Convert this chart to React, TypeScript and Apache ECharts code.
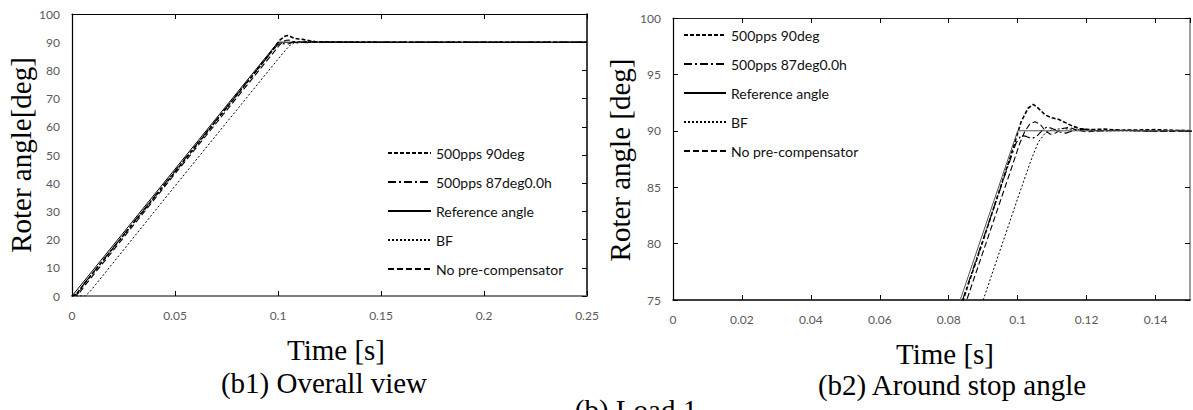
import React, { useEffect, useRef } from "react";
import * as echarts from "echarts";

// ---- data ----
const seriesNames = [
  "500pps 90deg",
  "500pps 87deg0.0h",
  "Reference angle",
  "BF",
  "No pre-compensator",
];

const pps90deg: number[][] = [
  [0, 0], [0.002, 0.5], [0.004, 2.5], [0.01, 8], [0.05, 44], [0.09, 80.3],
  [0.098, 87.8], [0.101, 90.8], [0.103, 92.0], [0.1045, 92.35], [0.106, 92.0],
  [0.108, 91.4], [0.11, 91.15], [0.112, 91.0], [0.114, 90.7], [0.116, 90.4],
  [0.118, 90.2], [0.121, 90.1], [0.125, 90.15], [0.13, 90.05], [0.14, 90.1],
  [0.15, 90.0], [0.25, 90],
];

const pps87deg: number[][] = [
  [0, 0], [0.003, 1], [0.006, 4.5], [0.05, 44.3], [0.09, 80.4], [0.097, 86.7],
  [0.0995, 88.9], [0.101, 89.6], [0.1025, 89.5], [0.104, 89.3], [0.1055, 89.5],
  [0.107, 90.0], [0.1085, 90.35], [0.11, 90.2], [0.112, 89.9], [0.114, 89.8],
  [0.116, 90.0], [0.119, 90.15], [0.123, 90.0], [0.13, 90.05], [0.14, 89.95],
  [0.15, 90.05], [0.25, 90],
];

const referenceAngle: number[][] = [
  [0, 0], [0.1, 90], [0.25, 90],
];

const bfAngle: number[][] = [
  [0, 0], [0.0065, 0], [0.009, 1.8], [0.05, 39], [0.09, 75], [0.1, 84],
  [0.104, 87.5], [0.106, 89.0], [0.108, 89.8], [0.11, 90.1], [0.113, 90.2],
  [0.117, 90.1], [0.125, 90.0], [0.25, 90],
];

const noPreComp: number[][] = [
  [0, 0], [0.003, 0.5], [0.006, 3.5], [0.05, 43.3], [0.09, 79.3], [0.098, 86.5],
  [0.1005, 88.8], [0.102, 89.9], [0.1035, 90.6], [0.105, 90.8], [0.1065, 90.6],
  [0.108, 90.0], [0.1095, 89.7], [0.111, 89.8], [0.113, 90.2], [0.115, 90.3],
  [0.117, 90.1], [0.12, 89.9], [0.124, 90.0], [0.13, 90.05], [0.14, 89.95],
  [0.25, 90],
];

const seriesData = [pps90deg, pps87deg, referenceAngle, bfAngle, noPreComp];

// ---- styles ----
const lineStyles = [
  { color: "#000", width: 1.6, type: [4, 2] },
  { color: "#000", width: 1.2, type: [8, 3, 2, 3] },
  { color: "#000", width: 1, type: "solid" },
  { color: "#000", width: 1, type: [2, 2] },
  { color: "#000", width: 1.1, type: [6, 3] },
];

const tickFont = "Lato, 'Open Sans', sans-serif";
const serif = "'Liberation Serif', 'DejaVu Serif', serif";

export default function App() {
  const ref = useRef<HTMLDivElement>(null);
  useEffect(() => {
    if (!ref.current) return;
    const chart = echarts.init(ref.current, undefined, { renderer: "svg" });

    const label = { color: "#595959", fontSize: 12, fontFamily: tickFont };

    const mkX = (grid: number, max: number, interval: number, bottomColor: string, bottomWidth: number, topColor: string) => [
      {
        type: "value", gridIndex: grid, min: 0, max, interval, position: "bottom",
        axisLine: { show: true, lineStyle: { color: bottomColor, width: bottomWidth } },
        axisTick: { show: true, inside: true, length: 5, lineStyle: { color: "#000" } },
        axisLabel: { ...label, margin: 13, showMaxLabel: grid === 0 },
        splitLine: { show: false },
      },
      {
        type: "value", gridIndex: grid, min: 0, max, interval, position: "top",
        axisLine: { show: true, onZero: false, lineStyle: { color: topColor, width: 1.2 } },
        axisTick: { show: true, inside: true, length: 5, lineStyle: { color: "#000" } },
        axisLabel: { show: false },
        splitLine: { show: false },
      },
    ];
    const mkY = (grid: number, min: number, max: number, interval: number, leftTicks: boolean, rightColor: string) => [
      {
        type: "value", gridIndex: grid, min, max, interval, position: "left",
        axisLine: { show: true, onZero: false, lineStyle: { color: "#000", width: 1.2 } },
        axisTick: { show: leftTicks, inside: true, length: 5, lineStyle: { color: "#000" } },
        axisLabel: { ...label, margin: 12 },
        splitLine: { show: false },
      },
      {
        type: "value", gridIndex: grid, min, max, interval, position: "right",
        axisLine: { show: true, onZero: false, lineStyle: { color: rightColor, width: 1.5 } },
        axisTick: { show: true, inside: true, length: 5, lineStyle: { color: "#000" } },
        axisLabel: { show: false },
        splitLine: { show: false },
      },
    ];

    const series: any[] = [];
    [0, 1].forEach((g) => {
      seriesNames.forEach((name, i) => {
        series.push({
          type: "line",
          name,
          data: seriesData[i],
          xAxisIndex: g * 2,
          yAxisIndex: g * 2,
          symbol: "none",
          showSymbol: false,
          clip: true,
          itemStyle: { color: "#000" },
          lineStyle: { ...lineStyles[i], color: g === 1 && i === 2 ? "#555" : lineStyles[i].color },
          z: i === 2 ? 3 : 2,
        });
      });
    });

    const legendCommon = {
      orient: "vertical",
      data: seriesNames,
      itemWidth: 43,
      itemHeight: 14,
      itemGap: 15,
      selectedMode: false,
      itemStyle: { opacity: 0 },
      textStyle: { color: "#111", fontSize: 14, fontFamily: tickFont },
    };

    const txt = (x: number, y: number, text: string, rotation = 0) => ({
      type: "text",
      x,
      y,
      rotation,
      style: {
        text,
        fill: "#000",
        font: `29px ${serif}`,
        align: "center",
        verticalAlign: "middle",
      },
    });

    chart.setOption({
      animation: false,
      grid: [
        { left: 72, top: 14, width: 515, height: 282 },
        { left: 673, top: 18, width: 517, height: 282 },
      ],
      xAxis: [
        ...mkX(0, 0.25, 0.05, "#7f7f7f", 2, "#000"),
        ...mkX(1, 0.15, 0.02, "#000", 1.5, "#222"),
      ],
      yAxis: [
        ...mkY(0, 0, 100, 10, false, "#000"),
        ...mkY(1, 75, 100, 5, true, "#7f7f7f"),
      ],
      legend: [
        { ...legendCommon, left: 382, top: 141 },
        { ...legendCommon, left: 678, top: 23, itemWidth: 42 },
      ],
      series,
      graphic: [
        txt(21, 155, "Roter angle[deg]", Math.PI / 2),
        txt(620, 160, "Roter angle [deg]", Math.PI / 2),
        txt(336, 350, "Time [s]"),
        txt(945, 354, "Time [s]"),
        txt(324, 383, "(b1) Overall view"),
        txt(952, 385, "(b2) Around stop angle"),
        txt(636, 410, "(b) Load 1"),
      ],
    });
    return () => chart.dispose();
  }, []);
  return (
    <div
      ref={ref}
      style={{ position: "fixed", left: 0, top: 0, width: 1193, height: 410, background: "#fff" }}
    />
  );
}
